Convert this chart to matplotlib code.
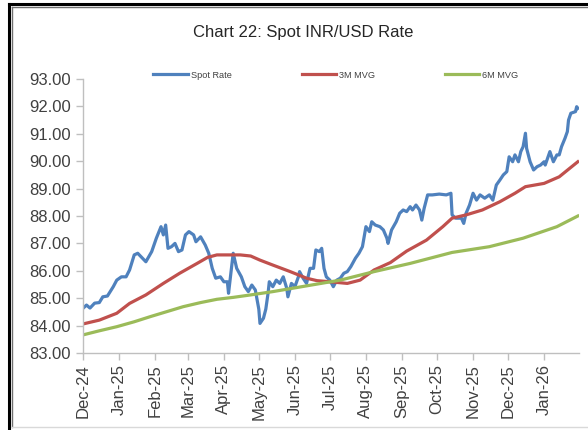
import matplotlib
matplotlib.use("Agg")
import matplotlib.pyplot as plt
import matplotlib.dates as mdates
from matplotlib.lines import Line2D
import pandas as pd

plt.rcParams['font.family'] = ['Liberation Sans', 'DejaVu Sans']

# spot rate
spot_dates = [
    "2024-12-01", "2024-12-04", "2024-12-07", "2024-12-11", "2024-12-15", "2024-12-18",
    "2024-12-22", "2024-12-27", "2024-12-30", "2025-01-03", "2025-01-07", "2025-01-10",
    "2025-01-14", "2025-01-17", "2025-01-21", "2025-01-24", "2025-01-29", "2025-02-02",
    "2025-02-06", "2025-02-08", "2025-02-10", "2025-02-12", "2025-02-15", "2025-02-18",
    "2025-02-21", "2025-02-24", "2025-02-27", "2025-03-02", "2025-03-06", "2025-03-08",
    "2025-03-12", "2025-03-16", "2025-03-19", "2025-03-22", "2025-03-25", "2025-03-29",
    "2025-04-01", "2025-04-04", "2025-04-05", "2025-04-07", "2025-04-09", "2025-04-12",
    "2025-04-16", "2025-04-19", "2025-04-22", "2025-04-25", "2025-04-28", "2025-05-01",
    "2025-05-02", "2025-05-05", "2025-05-07", "2025-05-09", "2025-05-10", "2025-05-13",
    "2025-05-16", "2025-05-19", "2025-05-22", "2025-05-25", "2025-05-26", "2025-05-29",
    "2025-06-01", "2025-06-04", "2025-06-05", "2025-06-08", "2025-06-11", "2025-06-14",
    "2025-06-17", "2025-06-19", "2025-06-22", "2025-06-24", "2025-06-26", "2025-06-28",
    "2025-07-01", "2025-07-04", "2025-07-07", "2025-07-10", "2025-07-13", "2025-07-16",
    "2025-07-19", "2025-07-23", "2025-07-26", "2025-07-29", "2025-08-01", "2025-08-04",
    "2025-08-06", "2025-08-09", "2025-08-13", "2025-08-16", "2025-08-19", "2025-08-20",
    "2025-08-23", "2025-08-27", "2025-08-30", "2025-09-02", "2025-09-05", "2025-09-08",
    "2025-09-10", "2025-09-13", "2025-09-16", "2025-09-18", "2025-09-20", "2025-09-23",
    "2025-09-27", "2025-10-03", "2025-10-09", "2025-10-13", "2025-10-14", "2025-10-17",
    "2025-10-22", "2025-10-24", "2025-10-26", "2025-10-29", "2025-11-01", "2025-11-04",
    "2025-11-07", "2025-11-11", "2025-11-15", "2025-11-18", "2025-11-21", "2025-11-24",
    "2025-11-27", "2025-11-30", "2025-12-02", "2025-12-05", "2025-12-07", "2025-12-10",
    "2025-12-12", "2025-12-14", "2025-12-16", "2025-12-17", "2025-12-20", "2025-12-23",
    "2025-12-26", "2025-12-29", "2026-01-01", "2026-01-02", "2026-01-05", "2026-01-06",
    "2026-01-09", "2026-01-12", "2026-01-14", "2026-01-16", "2026-01-19", "2026-01-21",
    "2026-01-22", "2026-01-24", "2026-01-28", "2026-01-29", "2026-01-30",
]
spot_rate = [
    84.63, 84.75, 84.64, 84.82, 84.84, 85.05,
    85.08, 85.42, 85.66, 85.78, 85.78, 86.03,
    86.58, 86.64, 86.46, 86.33, 86.70, 87.19,
    87.61, 87.31, 87.67, 86.82, 86.88, 87.00,
    86.70, 86.76, 87.31, 87.43, 87.31, 87.06,
    87.24, 86.94, 86.64, 86.09, 85.73, 85.78,
    85.60, 85.60, 85.18, 85.90, 86.64, 86.09,
    85.78, 85.42, 85.24, 85.48, 85.30, 84.60,
    84.08, 84.27, 84.60, 85.20, 85.60, 85.42,
    85.66, 85.54, 85.78, 85.36, 85.05, 85.54,
    85.42, 85.78, 85.97, 85.73, 85.54, 86.09,
    86.09, 86.76, 86.70, 86.82, 86.09, 85.78,
    85.66, 85.42, 85.66, 85.73, 85.91, 85.97,
    86.15, 86.46, 86.64, 86.88, 87.61, 87.43,
    87.79, 87.67, 87.61, 87.49, 87.19, 87.00,
    87.49, 87.79, 88.10, 88.22, 88.16, 88.34,
    88.22, 88.40, 88.22, 87.85, 88.28, 88.77,
    88.77, 88.80, 88.77, 88.83, 88.04, 87.92,
    87.92, 87.73, 88.10, 88.40, 88.83, 88.58,
    88.77, 88.65, 88.77, 88.58, 89.13, 89.31,
    89.50, 89.62, 90.16, 89.98, 90.23, 89.98,
    90.35, 90.53, 91.02, 90.47, 89.98, 89.68,
    89.80, 89.86, 89.98, 89.86, 90.23, 90.35,
    89.98, 90.23, 90.23, 90.53, 90.84, 91.08,
    91.50, 91.75, 91.81, 91.99, 91.93,
]

# 3 month moving average
mvg3_dates = [
    "2024-12-01", "2024-12-15", "2024-12-30", "2025-01-10", "2025-01-24", "2025-02-08",
    "2025-02-22", "2025-03-09", "2025-03-18", "2025-03-26", "2025-04-07", "2025-04-15",
    "2025-04-24", "2025-05-02", "2025-05-13", "2025-05-28", "2025-06-11", "2025-06-20",
    "2025-07-01", "2025-07-16", "2025-07-27", "2025-08-08", "2025-08-22", "2025-09-05",
    "2025-09-22", "2025-10-06", "2025-10-14", "2025-10-26", "2025-11-09", "2025-11-24",
    "2025-12-07", "2025-12-16", "2026-01-01", "2026-01-14", "2026-01-23", "2026-01-30",
]
mvg3 = [
    84.06, 84.20, 84.45, 84.81, 85.12, 85.54,
    85.91, 86.27, 86.49, 86.58, 86.58, 86.58,
    86.54, 86.39, 86.21, 85.97, 85.73, 85.64,
    85.60, 85.54, 85.66, 86.03, 86.30, 86.72,
    87.12, 87.61, 87.92, 88.04, 88.22, 88.52,
    88.83, 89.07, 89.19, 89.43, 89.74, 89.98,
]

# 6 month moving average
mvg6_dates = [
    "2024-12-01", "2024-12-15", "2024-12-30", "2025-01-14", "2025-01-28", "2025-02-11",
    "2025-02-25", "2025-03-12", "2025-03-26", "2025-04-09", "2025-04-24", "2025-05-13",
    "2025-06-11", "2025-07-10", "2025-08-08", "2025-09-08", "2025-10-14", "2025-11-15",
    "2025-12-14", "2026-01-12", "2026-01-30",
]
mvg6 = [
    83.66, 83.81, 83.96, 84.14, 84.33, 84.51,
    84.69, 84.84, 84.96, 85.03, 85.12, 85.24,
    85.45, 85.66, 85.97, 86.27, 86.67, 86.88,
    87.19, 87.61, 88.00,
]

fig = plt.figure(figsize=(5.88, 4.30), dpi=100)
ax = fig.add_axes([83 / 588, 1 - 353 / 430, 496 / 588, 274 / 430])

ax.plot(pd.to_datetime(spot_dates), spot_rate, color="#4F81BD", lw=2.3,
        label="Spot Rate", solid_joinstyle="round")
ax.plot(pd.to_datetime(mvg3_dates), mvg3, color="#C0504D", lw=2.3, label="3M MVG")
ax.plot(pd.to_datetime(mvg6_dates), mvg6, color="#9BBB59", lw=2.3, label="6M MVG")

ax.set_ylim(83, 93)
ax.set_yticks(range(83, 94))
ax.yaxis.set_major_formatter(plt.FuncFormatter(lambda v, p: "%.2f" % v))
ax.set_xlim(pd.Timestamp("2024-12-01"), pd.Timestamp("2026-01-31"))
ax.xaxis.set_major_locator(mdates.MonthLocator())
ax.xaxis.set_major_formatter(mdates.DateFormatter("%b-%y"))
plt.setp(ax.get_xticklabels(), rotation=90)

for s in ["top", "right"]:
    ax.spines[s].set_visible(False)
for s in ["left", "bottom"]:
    ax.spines[s].set_color("#BFBFBF")
    ax.spines[s].set_linewidth(1.0)
ax.tick_params(axis="both", colors="#BFBFBF", labelcolor="#404040",
               labelsize=12, length=5, width=1.0, direction="out")
ax.tick_params(axis="y", pad=4)
ax.tick_params(axis="x", pad=3)

fig.text(0.515, 1 - 32 / 430, "Chart 22: Spot INR/USD Rate", ha="center",
         va="center", fontsize=12, color="#262626")

fig.legend(loc="center", bbox_to_anchor=(0.5714, 1 - 75 / 430), ncol=3,
           frameon=False, fontsize=6.6, handlelength=3.75, handletextpad=0.35,
           columnspacing=7.6, labelcolor="#404040")

# outer frame
fig.add_artist(Line2D([9 / 588, 9 / 588], [0, 1 - 4 / 430], color="black",
                      lw=2.2, transform=fig.transFigure))
fig.add_artist(Line2D([9 / 588, 1], [1 - 4 / 430, 1 - 4 / 430], color="black",
                      lw=2.2, transform=fig.transFigure))
fig.add_artist(Line2D([11.5 / 588, 11.5 / 588], [1 - 427 / 430, 1 - 6.5 / 430],
                      color="#707070", lw=1.0, transform=fig.transFigure))
fig.add_artist(Line2D([11.5 / 588, 1], [1 - 6.5 / 430, 1 - 6.5 / 430],
                      color="#707070", lw=1.0, transform=fig.transFigure))
fig.add_artist(Line2D([11.5 / 588, 1], [1 - 427 / 430, 1 - 427 / 430],
                      color="#D9D9D9", lw=1.0, transform=fig.transFigure))

fig.savefig("out.png", dpi=100)
